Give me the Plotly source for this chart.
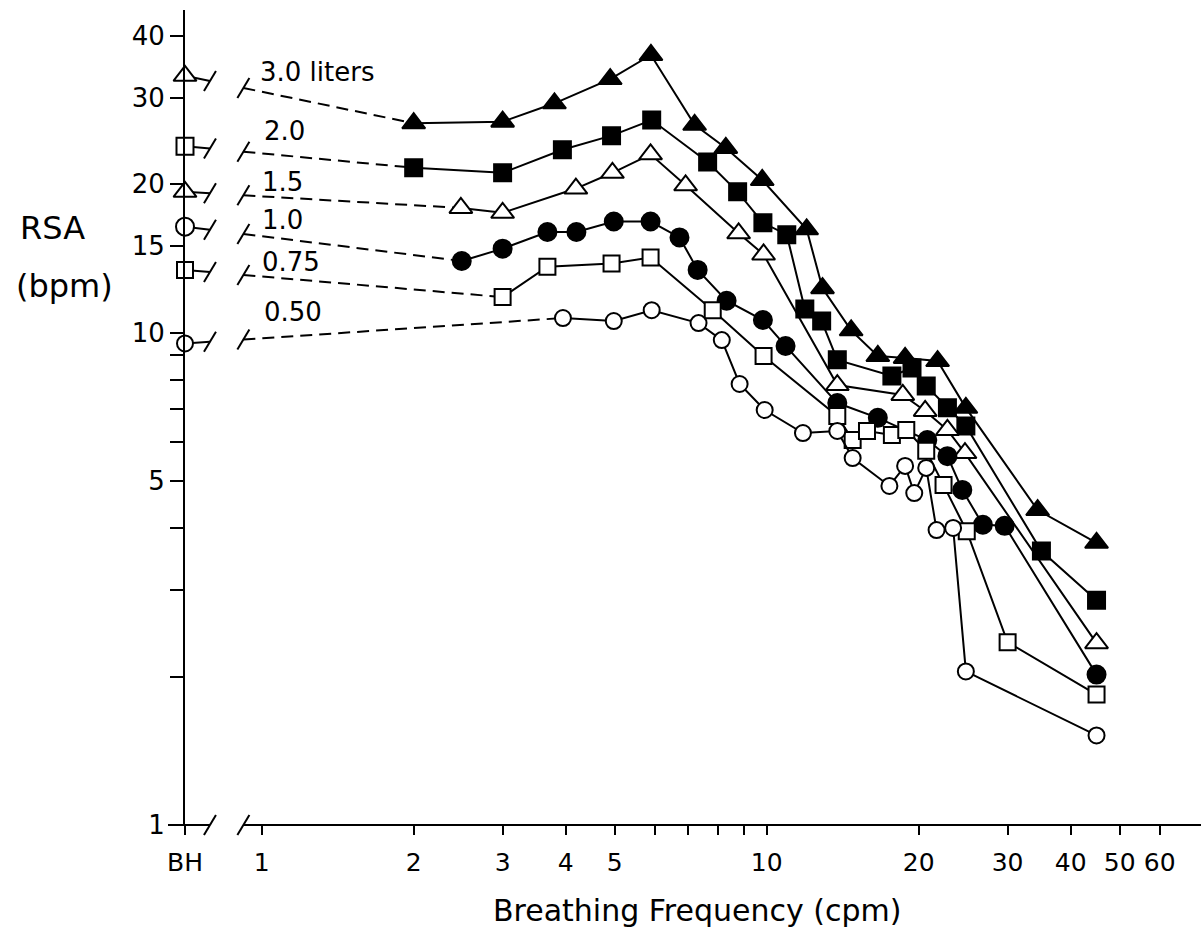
import math
import plotly.graph_objects as go

# ------------------------------------------------------------------ data
BH_POS = 0.705      # position of the breath-hold (BH) column on the frequency axis
BREAK_A = 0.79      # axis-break marks (cpm units)
BREAK_B = 0.92

series_labels = ["3.0 liters", "2.0", "1.5", "1.0", "0.75", "0.50"]
bh_rsa = [33.2, 23.9, 19.3, 16.4, 13.4, 9.5]

freq_3_0 = [2.0, 3.0, 3.8, 4.9, 5.9, 7.2, 8.3, 9.8, 12.0, 12.9, 14.7, 16.6, 18.8, 21.8, 24.8, 34.4, 45]
rsa_3_0 = [26.6, 26.8, 29.2, 32.7, 36.6, 26.4, 23.7, 20.4, 16.2, 12.3, 10.1, 8.96, 8.88, 8.75, 7.03, 4.36, 3.74]

freq_2_0 = [2.0, 3.0, 3.94, 4.93, 5.92, 7.64, 8.76, 9.83, 10.96, 11.9, 12.85, 13.8, 17.7, 19.4, 20.7, 22.8, 24.8, 35.0, 45]
rsa_2_0 = [21.6, 21.1, 23.5, 25.1, 27.0, 22.2, 19.3, 16.7, 15.8, 11.16, 10.55, 8.80, 8.16, 8.47, 7.79, 7.03, 6.46, 3.60, 2.86]

freq_1_5 = [2.48, 3.0, 4.19, 4.95, 5.89, 6.91, 8.80, 9.86, 13.8, 18.6, 20.6, 22.8, 24.7, 45]
rsa_1_5 = [17.9, 17.5, 19.6, 21.1, 23.0, 19.9, 15.9, 14.4, 7.82, 7.47, 6.93, 6.34, 5.69, 2.34]

freq_1_0 = [2.49, 3.0, 3.68, 4.2, 4.98, 5.89, 6.72, 7.3, 8.33, 9.83, 10.9, 13.8, 16.6, 20.8, 22.8, 24.4, 26.8, 29.6, 45]
rsa_1_0 = [13.97, 14.8, 16.0, 16.0, 16.8, 16.8, 15.6, 13.4, 11.6, 10.6, 9.39, 7.19, 6.71, 6.05, 5.61, 4.79, 4.07, 4.05, 2.02]

freq_0_75 = [3.0, 3.68, 4.93, 5.89, 7.82, 9.86, 13.8, 14.8, 15.8, 17.7, 18.9, 20.7, 22.4, 24.9, 30.0, 45]
rsa_0_75 = [11.8, 13.6, 13.8, 14.2, 11.1, 8.96, 6.77, 6.05, 6.31, 6.19, 6.34, 5.75, 4.90, 3.95, 2.35, 1.84]

freq_0_50 = [3.95, 4.98, 5.92, 7.33, 8.15, 8.84, 9.91, 11.8, 13.8, 14.8, 17.5, 18.8, 19.6, 20.7, 21.7, 23.4, 24.8, 45]
rsa_0_50 = [10.7, 10.55, 11.1, 10.45, 9.65, 7.86, 6.96, 6.25, 6.31, 5.56, 4.88, 5.36, 4.72, 5.31, 3.97, 4.01, 2.05, 1.52]

x_tickvals = [BH_POS, 1, 2, 3, 4, 5, 6, 7, 8, 9, 10, 20, 30, 40, 50, 60]
x_ticktext = ["BH", "1", "2", "3", "4", "5", "", "", "", "", "10", "20", "30", "40", "50", "60"]
y_tickvals = [1, 2, 3, 4, 5, 6, 7, 8, 9, 10, 15, 20, 30, 40]
y_ticktext = ["1", "", "", "", "5", "", "", "", "", "10", "15", "20", "30", "40"]

# ------------------------------------------------------------------ layout geometry
W, H = 1201, 947
ML, MR, MT, MB = 185, 0, 10, 122
PW, PH = W - ML - MR, H - MT - MB
X_DEC = 505.0     # pixels per decade, x
Y_DEC = 492.5     # pixels per decade, y
xr0 = math.log10(BH_POS)
xr1 = xr0 + PW / X_DEC
yr0 = 0.0
yr1 = PH / Y_DEC

FONT = "DejaVu Sans, Liberation Sans, sans-serif"


def px(p):   # pixel x -> paper
    return (p - ML) / PW


def py(p):   # pixel y -> paper
    return (H - MB - p) / PH


def fx(f):   # frequency -> paper
    return (math.log10(f) - xr0) / (xr1 - xr0)


series = [
    (freq_3_0, rsa_3_0, "triangle-up", "black", 20),
    (freq_2_0, rsa_2_0, "square", "black", 17),
    (freq_1_5, rsa_1_5, "triangle-up", "white", 20),
    (freq_1_0, rsa_1_0, "circle", "black", 18),
    (freq_0_75, rsa_0_75, "square", "white", 16),
    (freq_0_50, rsa_0_50, "circle", "white", 16),
]

fig = go.Figure()

KX = 10 ** (6 / X_DEC)
KY = 10 ** (10 / Y_DEC)
LWS = 2.0


def interp(f0, v0, f1, v1, f):
    t = (math.log10(f) - math.log10(f0)) / (math.log10(f1) - math.log10(f0))
    return 10 ** (math.log10(v0) + t * (math.log10(v1) - math.log10(v0)))


for (fr, rs, sym, fill, size), bh in zip(series, bh_rsa):
    f1, v1 = fr[0], rs[0]
    va = interp(BH_POS, bh, f1, v1, BREAK_A)
    vb = interp(BH_POS, bh, f1, v1, BREAK_B)
    # solid stub from BH to first break
    fig.add_trace(go.Scatter(x=[BH_POS, BREAK_A], y=[bh, va], mode="lines",
                             line=dict(color="black", width=LWS), hoverinfo="skip"))
    # break slashes
    for fb, vv in ((BREAK_A, va), (BREAK_B, vb)):
        fig.add_trace(go.Scatter(x=[fb / KX, fb * KX], y=[vv / KY, vv * KY], mode="lines",
                                 line=dict(color="black", width=LWS), hoverinfo="skip"))
    # dashed continuation to first measured point
    fig.add_trace(go.Scatter(x=[BREAK_B, f1], y=[vb, v1], mode="lines",
                             line=dict(color="black", width=LWS, dash="12px,7px"),
                             hoverinfo="skip"))
    # measured series
    fig.add_trace(go.Scatter(x=fr, y=rs, mode="lines+markers",
                             line=dict(color="black", width=LWS),
                             marker=dict(symbol=sym, size=size, color=fill,
                                         line=dict(color="black", width=2)),
                             cliponaxis=False, hoverinfo="x+y"))
    # breath-hold marker (always open)
    fig.add_trace(go.Scatter(x=[BH_POS], y=[bh], mode="markers",
                             marker=dict(symbol=sym, size=size, color="white",
                                         line=dict(color="black", width=2)),
                             cliponaxis=False, hoverinfo="y"))

# ------------------------------------------------------------------ axis decorations
shapes = []
LW = 2
# x axis line with a break
shapes.append(dict(type="line", xref="paper", yref="paper", x0=px(168), x1=fx(BREAK_A),
                   y0=0, y1=0, line=dict(color="black", width=LW)))
shapes.append(dict(type="line", xref="paper", yref="paper", x0=fx(BREAK_B), x1=1,
                   y0=0, y1=0, line=dict(color="black", width=LW)))
for fb in (BREAK_A, BREAK_B):
    shapes.append(dict(type="line", xref="paper", yref="paper",
                       x0=fx(fb) - 6 / PW, x1=fx(fb) + 6 / PW,
                       y0=-10 / PH, y1=10 / PH, line=dict(color="black", width=LW)))
# y axis extension below the x axis (crossing at BH)
shapes.append(dict(type="line", xref="paper", yref="paper", x0=0, x1=0,
                   y0=-10 / PH, y1=0, line=dict(color="black", width=LW)))

annotations = []
label_pos = [(258, 72), (262, 131), (260, 182), (260, 220), (260, 262), (262, 312)]
for txt, (lx, ly) in zip(series_labels, label_pos):
    annotations.append(dict(text=txt, xref="paper", yref="paper", x=px(lx), y=py(ly),
                            xanchor="left", yanchor="middle", showarrow=False,
                            font=dict(family=FONT, size=26, color="black")))
annotations.append(dict(text="RSA", xref="paper", yref="paper", x=px(18), y=py(228),
                        xanchor="left", yanchor="middle", showarrow=False,
                        font=dict(family=FONT, size=32, color="black")))
annotations.append(dict(text="(bpm)", xref="paper", yref="paper", x=px(14), y=py(286),
                        xanchor="left", yanchor="middle", showarrow=False,
                        font=dict(family=FONT, size=32, color="black")))
annotations.append(dict(text="Breathing Frequency (cpm)", xref="paper", yref="paper",
                        x=px(697), y=py(910), xanchor="center", yanchor="middle",
                        showarrow=False, font=dict(family=FONT, size=30, color="black")))

fig.update_layout(
    width=W, height=H,
    margin=dict(l=ML, r=MR, t=MT, b=MB),
    paper_bgcolor="white", plot_bgcolor="white",
    showlegend=False,
    shapes=shapes, annotations=annotations,
    xaxis=dict(type="log", range=[xr0, xr1], showgrid=False, zeroline=False,
               showline=False, ticks="outside", ticklen=9, tickwidth=2,
               tickcolor="black", tickvals=x_tickvals, ticktext=x_ticktext,
               tickfont=dict(family=FONT, size=25, color="black"),
               ticklabelstandoff=6),
    yaxis=dict(type="log", range=[yr0, yr1], showgrid=False, zeroline=False,
               showline=True, linecolor="black", linewidth=LW,
               ticks="outside", ticklen=13, tickwidth=2, tickcolor="black",
               tickvals=y_tickvals, ticktext=y_ticktext,
               tickfont=dict(family=FONT, size=26, color="black")),
)

fig.write_html("out.html")
